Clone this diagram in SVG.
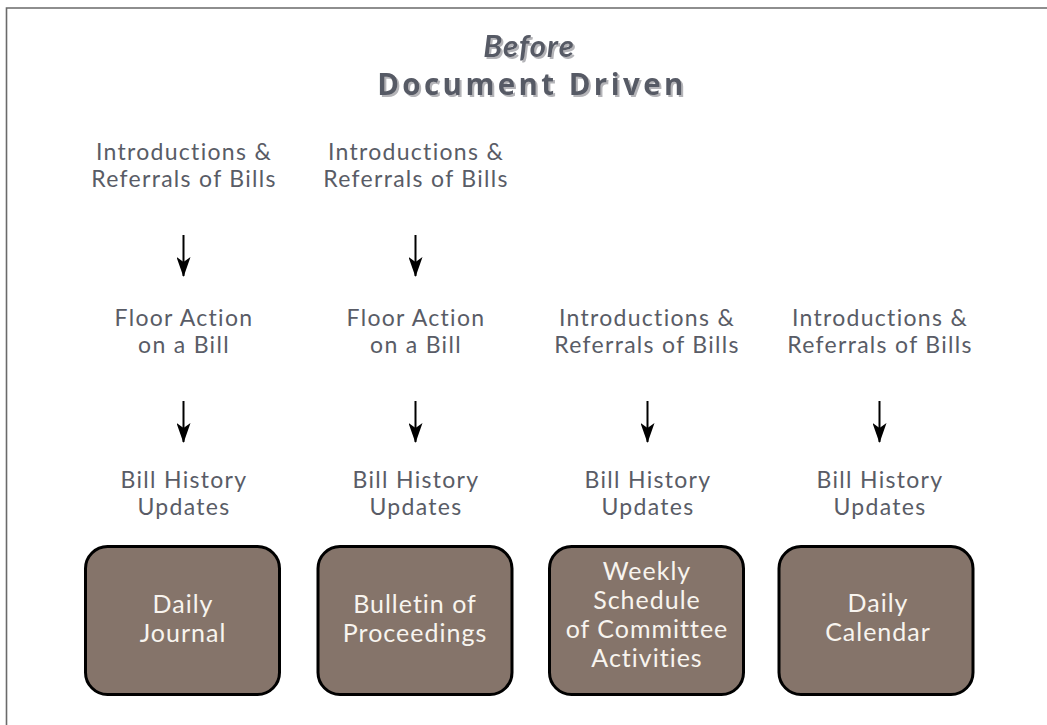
<svg xmlns="http://www.w3.org/2000/svg" width="1047" height="725" viewBox="0 0 1047 725">
  <defs>
    <marker id="down" viewBox="0 0 14 20" refX="7" refY="19" markerWidth="14" markerHeight="20" markerUnits="userSpaceOnUse" orient="0">
      <path d="M0,0 L7,5 L14,0 L7,20 Z" fill="#000"/>
    </marker>
    <!-- soft grey drop shadow for the heading -->
    <filter id="headShadow" x="-10%" y="-30%" width="120%" height="160%">
      <feOffset in="SourceAlpha" dx="2" dy="2" result="off"/>
      <feFlood flood-color="#b4b4b8"/>
      <feComposite in2="off" operator="in" result="sh"/>
      <feMerge>
        <feMergeNode in="sh"/>
        <feMergeNode in="SourceGraphic"/>
      </feMerge>
    </filter>
  </defs>
  <style>
    .frame { fill: none; stroke: #6a6a6a; stroke-width: 1.6; }
    .title { font-weight: 700; fill: #575a65; text-anchor: middle; filter: url(#headShadow); }
    .label { font-family: Lato, "Open Sans", sans-serif; font-size: 23px; letter-spacing: 1.3px; fill: #595c66; text-anchor: middle; }
    .box { fill: #85746a; stroke: #000; stroke-width: 3; }
    .boxtext { font-family: Lato, "Open Sans", sans-serif; font-size: 25px; letter-spacing: 1px; fill: #f8f4ef; text-anchor: middle; }
    .arrow { stroke: #000; stroke-width: 2; fill: none; }
  </style>

  <rect width="1047" height="725" fill="#fff"/>
  <!-- page frame: top and left rules -->
  <path class="frame" d="M6.5,725 L6.5,8 L1047,8"/>

  <!-- heading -->
  <g id="heading">
    <text class="title" x="529" y="57" font-family="Lato, 'Open Sans', sans-serif" font-size="31" font-style="italic" letter-spacing="1">Before</text>
    <text class="title" x="532" y="95" font-family="'Open Sans', 'Liberation Sans', sans-serif" font-size="29.5" letter-spacing="3.4">Document Driven</text>
  </g>

  <!-- column 1 -->
  <g id="c1-intro">
    <text class="label" y="160"><tspan x="184">Introductions &amp;</tspan><tspan x="184" dy="27">Referrals of Bills</tspan></text>
  </g>
  <g id="c1-floor">
    <text class="label" y="326"><tspan x="184">Floor Action</tspan><tspan x="184" dy="27">on a Bill</tspan></text>
  </g>
  <g id="c1-history">
    <text class="label" y="488"><tspan x="184">Bill History</tspan><tspan x="184" dy="27">Updates</tspan></text>
  </g>
  <g id="c1-journal">
    <rect class="box" x="85.5" y="546.5" width="194" height="148" rx="22"/>
    <text class="boxtext" y="613"><tspan x="183">Daily</tspan><tspan x="183" dy="29">Journal</tspan></text>
  </g>

  <!-- column 2 -->
  <g id="c2-intro">
    <text class="label" y="160"><tspan x="416">Introductions &amp;</tspan><tspan x="416" dy="27">Referrals of Bills</tspan></text>
  </g>
  <g id="c2-floor">
    <text class="label" y="326"><tspan x="416">Floor Action</tspan><tspan x="416" dy="27">on a Bill</tspan></text>
  </g>
  <g id="c2-history">
    <text class="label" y="488"><tspan x="416">Bill History</tspan><tspan x="416" dy="27">Updates</tspan></text>
  </g>
  <g id="c2-bulletin">
    <rect class="box" x="318" y="546.5" width="194" height="148" rx="22"/>
    <text class="boxtext" y="613"><tspan x="415">Bulletin of</tspan><tspan x="415" dy="29">Proceedings</tspan></text>
  </g>

  <!-- column 3 -->
  <g id="c3-intro">
    <text class="label" y="326"><tspan x="647">Introductions &amp;</tspan><tspan x="647" dy="27">Referrals of Bills</tspan></text>
  </g>
  <g id="c3-history">
    <text class="label" y="488"><tspan x="648">Bill History</tspan><tspan x="648" dy="27">Updates</tspan></text>
  </g>
  <g id="c3-weekly">
    <rect class="box" x="549.5" y="546.5" width="194" height="148" rx="22"/>
    <text class="boxtext" y="580"><tspan x="647">Weekly</tspan><tspan x="647" dy="29">Schedule</tspan><tspan x="647" dy="29">of Committee</tspan><tspan x="647" dy="29">Activities</tspan></text>
  </g>

  <!-- column 4 -->
  <g id="c4-intro">
    <text class="label" y="326"><tspan x="880">Introductions &amp;</tspan><tspan x="880" dy="27">Referrals of Bills</tspan></text>
  </g>
  <g id="c4-history">
    <text class="label" y="488"><tspan x="880">Bill History</tspan><tspan x="880" dy="27">Updates</tspan></text>
  </g>
  <g id="c4-calendar">
    <rect class="box" x="779" y="546.5" width="194" height="148" rx="22"/>
    <text class="boxtext" y="612"><tspan x="878">Daily</tspan><tspan x="878" dy="29">Calendar</tspan></text>
  </g>

  <!-- connectors -->
  <g id="connectors">
    <line class="arrow" x1="183.5" y1="235" x2="183.5" y2="276" marker-end="url(#down)"/>
    <line class="arrow" x1="415.5" y1="235" x2="415.5" y2="276" marker-end="url(#down)"/>
    <line class="arrow" x1="183.5" y1="401" x2="183.5" y2="442" marker-end="url(#down)"/>
    <line class="arrow" x1="415.5" y1="401" x2="415.5" y2="442" marker-end="url(#down)"/>
    <line class="arrow" x1="647.5" y1="401" x2="647.5" y2="442" marker-end="url(#down)"/>
    <line class="arrow" x1="879.5" y1="401" x2="879.5" y2="442" marker-end="url(#down)"/>
  </g>
</svg>
